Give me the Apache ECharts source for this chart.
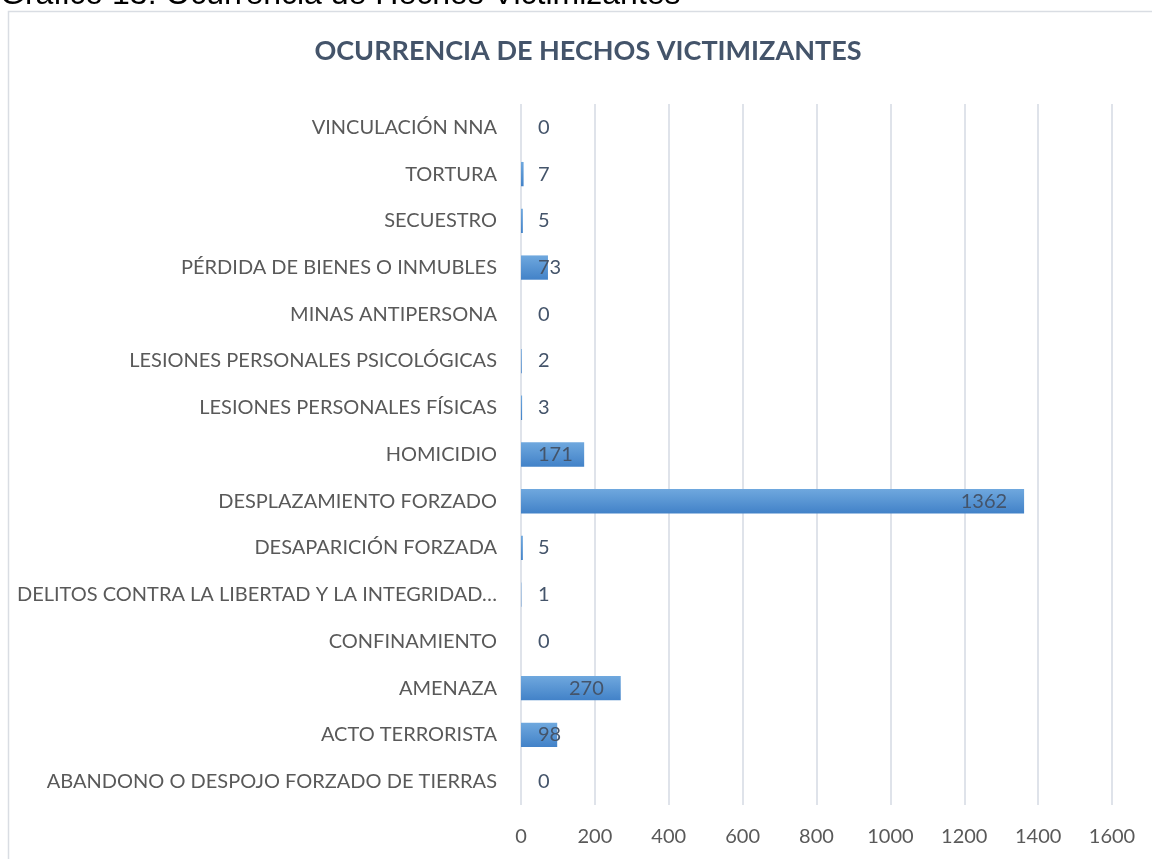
<!DOCTYPE html>
<html lang="es">
<head>
    <meta charset="UTF-8">
    <title>Ocurrencia de hechos victimizantes</title>
    <script src="https://cdn.jsdelivr.net/npm/echarts@6/dist/echarts.min.js"></script>
    <style>
        body {
            margin: 0;
            background-color: #ffffff;
        }
        #chart {
            width: 1152px;
            height: 859px;
        }
    </style>
</head>
<body>
<div id="chart"></div>
<script>
    // categorias de abajo hacia arriba (eje de categorias en echarts empieza abajo)
    var categorias = [
        'ABANDONO O DESPOJO FORZADO DE TIERRAS',
        'ACTO TERRORISTA',
        'AMENAZA',
        'CONFINAMIENTO',
        'DELITOS CONTRA LA LIBERTAD Y LA INTEGRIDAD…',
        'DESAPARICIÓN FORZADA',
        'DESPLAZAMIENTO FORZADO',
        'HOMICIDIO',
        'LESIONES PERSONALES FÍSICAS',
        'LESIONES PERSONALES PSICOLÓGICAS',
        'MINAS ANTIPERSONA',
        'PÉRDIDA DE BIENES O INMUBLES',
        'SECUESTRO',
        'TORTURA',
        'VINCULACIÓN NNA'
    ];
    var valores = [0, 98, 270, 0, 1, 5, 1362, 171, 3, 2, 0, 73, 5, 7, 0];
    var ticksX = [0, 200, 400, 600, 800, 1000, 1200, 1400, 1600];

    var fuente = 'Lato';
    var tamLetra = 20;
    var gridLeft = 521, gridRight = 40;
    var anchoPlot = 1152 - gridLeft - gridRight;
    var maxX = ticksX[ticksX.length - 1];

    // medir texto para decidir donde va la etiqueta (como Excel: dentro al final, o pegada al inicio)
    var ctx = document.createElement('canvas').getContext('2d');
    ctx.font = tamLetra + 'px ' + fuente;

    var datos = valores.map(function (v) {
        var largo = v / maxX * anchoPlot;
        var w = ctx.measureText(String(v)).width;
        var dentro = largo - 17 - w >= 17;
        return {
            value: v,
            label: dentro
                ? { position: 'insideRight', distance: 17 }
                : { position: 'insideLeft', distance: 17 }
        };
    });

    var chart = echarts.init(document.getElementById('chart'));

    var opciones = {
        backgroundColor: '#ffffff',
        animation: false,
        textStyle: { fontFamily: fuente },
        graphic: [
            {
                type: 'rect',
                shape: { x: 8.5, y: 11.5, width: 1200, height: 900 },
                style: { fill: 'none', stroke: '#d9dde3', lineWidth: 1.5 },
                z: -1
            },
            {
                type: 'text',
                x: 0,
                y: 11,
                style: {
                    text: 'Gráfico 13: Ocurrencia de Hechos Victimizantes',
                    font: '32px "Liberation Sans", Arial',
                    fill: '#000000',
                    verticalAlign: 'bottom'
                }
            },
            {
                type: 'text',
                x: 588,
                y: 51,
                style: {
                    text: 'OCURRENCIA DE HECHOS VICTIMIZANTES',
                    font: 'bold 27px Lato',
                    fill: '#44546a',
                    align: 'center',
                    verticalAlign: 'middle'
                }
            }
        ],
        grid: {
            left: gridLeft,
            right: gridRight,
            top: 104,
            bottom: 54,
            containLabel: false
        },
        xAxis: {
            type: 'value',
            min: 0,
            max: maxX,
            interval: 200,
            axisLine: { show: false },
            axisTick: { show: false },
            axisLabel: {
                color: '#595959',
                fontSize: tamLetra,
                margin: 22,
                formatter: function (v) { return String(v); }
            },
            splitLine: {
                show: true,
                lineStyle: { color: '#dfe3ea', width: 2 }
            }
        },
        yAxis: {
            type: 'category',
            data: categorias,
            axisLine: { show: false },
            axisTick: { show: false },
            axisLabel: {
                color: '#595959',
                fontSize: tamLetra,
                margin: 24
            }
        },
        series: [{
            type: 'bar',
            data: datos,
            barCategoryGap: '48%',
            itemStyle: {
                color: new echarts.graphic.LinearGradient(0, 0, 0, 1, [
                    { offset: 0, color: '#6fa8de' },
                    { offset: 1, color: '#4282c8' }
                ])
            },
            label: {
                show: true,
                color: '#44546a',
                fontSize: tamLetra,
                fontFamily: fuente
            }
        }]
    };

    chart.setOption(opciones);
</script>
</body>
</html>
